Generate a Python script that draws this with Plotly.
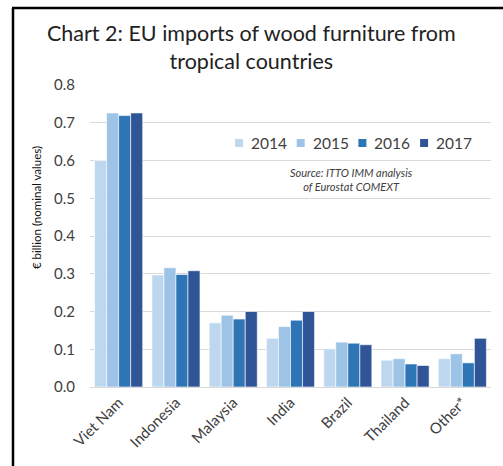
import plotly.graph_objects as go

categories = ["Viet Nam", "Indonesia", "Malaysia", "India", "Brazil", "Thailand", "Other*"]
years = ["2014", "2015", "2016", "2017"]
v2014 = [0.600, 0.297, 0.170, 0.129, 0.101, 0.071, 0.075]
v2015 = [0.726, 0.316, 0.190, 0.160, 0.119, 0.075, 0.088]
v2016 = [0.719, 0.298, 0.180, 0.177, 0.116, 0.061, 0.064]
v2017 = [0.726, 0.308, 0.200, 0.200, 0.112, 0.057, 0.129]
series = [v2014, v2015, v2016, v2017]
colors = ["#BDD7EE", "#9DC3E6", "#2E75B6", "#2F5597"]

FONT = "Lato"
W, H = 503, 466
L, R, T, B = 90, 12, 85, 79
pw, ph = W - L - R, H - T - B

def px_x(x):
    return (x - L) / pw

def px_y(y):
    return (H - B - y) / ph

fig = go.Figure()
for name, vals, col in zip(years, series, colors):
    fig.add_trace(go.Bar(
        x=categories, y=vals, name=name, showlegend=False,
        marker=dict(color=col, line=dict(color="white", width=0.6)),
    ))

annotations = [
    dict(text="Chart 2: EU imports of wood furniture from<br>tropical countries",
         xref="paper", yref="paper", x=px_x(251), y=px_y(47), xanchor="center", yanchor="middle",
         showarrow=False, font=dict(size=21.5, color="#222222", family=FONT)),
    dict(text="<i>Source: ITTO IMM analysis<br>of Eurostat COMEXT</i>",
         xref="paper", yref="paper", x=px_x(351), y=px_y(179), xanchor="center", yanchor="middle",
         showarrow=False, font=dict(size=11, color="#404040", family=FONT)),
    dict(text="€ billion (nominal values)",
         xref="paper", yref="paper", x=px_x(36), y=px_y(208), xanchor="center", yanchor="middle",
         textangle=-90, showarrow=False, font=dict(size=11.5, color="#111111", family=FONT)),
]
shapes = [
    dict(type="line", xref="paper", yref="paper", x0=px_x(13), x1=px_x(13),
         y0=px_y(8), y1=px_y(466), line=dict(color="black", width=2.5)),
    dict(type="line", xref="paper", yref="paper", x0=px_x(12), x1=px_x(503),
         y0=px_y(8), y1=px_y(8), line=dict(color="black", width=2.5)),
]

# manual legend (horizontal row)
leg_x0 = 235
leg_step = 61.7
leg_y = 143
for i, (name, col) in enumerate(zip(years, colors)):
    sx = leg_x0 + i * leg_step
    shapes.append(dict(type="rect", xref="paper", yref="paper",
                       x0=px_x(sx), x1=px_x(sx + 8), y0=px_y(leg_y + 4), y1=px_y(leg_y - 4),
                       fillcolor=col, line=dict(width=0)))
    annotations.append(dict(text=name, xref="paper", yref="paper",
                            x=px_x(sx + 14), y=px_y(leg_y), xanchor="left", yanchor="middle",
                            showarrow=False, font=dict(size=15.5, color="#404040", family=FONT)))

fig.update_layout(
    width=W, height=H,
    margin=dict(l=L, r=R, t=T, b=B),
    paper_bgcolor="white", plot_bgcolor="white",
    barmode="group", bargap=0.16, bargroupgap=0,
    font=dict(family=FONT, color="#404040"),
    showlegend=False,
    xaxis=dict(
        tickangle=-45, tickfont=dict(size=15, color="#404040"),
        showline=True, linecolor="#d9d9d9", linewidth=1,
        ticks="", showgrid=False,
    ),
    yaxis=dict(
        range=[0, 0.8], dtick=0.1, tickformat=".1f",
        tickfont=dict(size=15, color="#404040"),
        showgrid=True, gridcolor="#d9d9d9", gridwidth=1,
        zeroline=False, showline=False, ticks="",
        ticklabelstandoff=14,
    ),
    annotations=annotations,
    shapes=shapes,
)

fig.write_html("out.html")
